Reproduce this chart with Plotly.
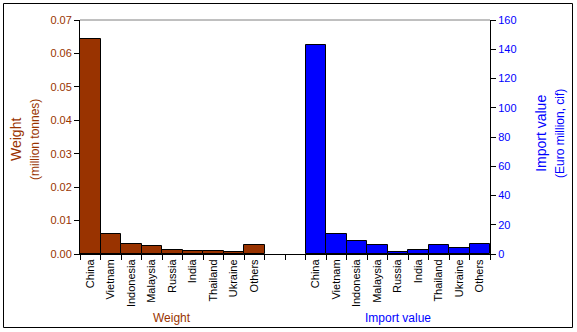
import plotly.graph_objects as go

countries = ["China", "Vietnam", "Indonesia", "Malaysia", "Russia", "India", "Thailand", "Ukraine", "Others"]
weight = [0.0643, 0.0061, 0.0030, 0.0024, 0.0012, 0.0008, 0.0008, 0.0005, 0.0027]
import_value = [143.0, 14.0, 8.7, 6.2, 1.3, 2.5, 6.2, 3.9, 6.8]
group_labels = ["Weight", "Import value"]

BROWN = "#993300"
BLUE = "#0000FF"
FONT = "Arial, Liberation Sans, sans-serif"

n = len(countries)
gap = 2
x_left = list(range(n))
x_right = [n + gap + i for i in range(n)]
total = 2 * n + gap

fig = go.Figure()
fig.add_trace(go.Bar(x=x_left, y=weight, width=1, marker=dict(color=BROWN, line=dict(color="black", width=1)),
                     yaxis="y", showlegend=False))
fig.add_trace(go.Bar(x=x_right, y=import_value, width=1, marker=dict(color=BLUE, line=dict(color="black", width=1)),
                     yaxis="y2", showlegend=False))

fig.update_layout(
    width=577, height=332,
    margin=dict(l=80, r=87, t=20, b=78),
    paper_bgcolor="white", plot_bgcolor="white",
    font=dict(family=FONT, size=11, color="black"),
    bargap=0,
    xaxis=dict(
        range=[-0.5, total - 0.5],
        tickmode="array",
        tickvals=x_left + x_right,
        ticktext=countries + countries,
        tickangle=-90,
        ticks="", ticklen=0,
        showline=True, linecolor="black", linewidth=1,
        showgrid=False, zeroline=False,
        tickfont=dict(family=FONT, size=11, color="black"),
        minor=dict(tickmode="array", tickvals=[i - 0.5 for i in range(total + 1)],
                   ticks="outside", ticklen=5, tickcolor="black", showgrid=False),
    ),
    yaxis=dict(
        range=[0, 0.07], dtick=0.01, tickformat=".2f",
        showline=True, linecolor="black", linewidth=1,
        ticks="outside", ticklen=5, tickcolor="black",
        showgrid=False, zeroline=False,
        tickfont=dict(family=FONT, size=11, color=BROWN),
    ),
    yaxis2=dict(
        range=[0, 160], dtick=20, overlaying="y", side="right",
        showline=True, linecolor="black", linewidth=1,
        ticks="outside", ticklen=5, tickcolor="black",
        showgrid=False, zeroline=False,
        tickfont=dict(family=FONT, size=11, color=BLUE),
    ),
)

# top plot border (gray)
fig.add_shape(type="line", xref="paper", yref="paper", x0=0, x1=1, y0=1, y1=1,
              line=dict(color="#808080", width=1))
# chart area border
fig.add_shape(type="rect", xref="paper", yref="paper",
              x0=(3.5 - 80) / 410, x1=(572.5 - 80) / 410,
              y0=(254 - 327.5) / 234, y1=(254 - 3.5) / 234,
              line=dict(color="black", width=1), fillcolor="rgba(0,0,0,0)", layer="below")

# axis titles
fig.add_annotation(xref="paper", yref="paper", x=(25 - 80) / 410, y=(254 - 140) / 234,
                   text="Weight<br><span style='font-size:12px'>(million tonnes)</span>",
                   textangle=-90, showarrow=False, font=dict(family=FONT, size=14, color=BROWN),
                   xanchor="center", yanchor="middle")
fig.add_annotation(xref="paper", yref="paper", x=(550 - 80) / 410, y=(254 - 134) / 234,
                   text="Import value<br><span style='font-size:12px'>(Euro million, cif)</span>",
                   textangle=-90, showarrow=False, font=dict(family=FONT, size=14, color=BLUE),
                   xanchor="center", yanchor="middle")

# group labels
fig.add_annotation(xref="x", yref="paper", x=(x_left[0] + x_left[-1]) / 2, y=(254 - 318) / 234,
                   text=group_labels[0], showarrow=False, font=dict(family=FONT, size=12, color=BROWN),
                   xanchor="center", yanchor="middle")
fig.add_annotation(xref="x", yref="paper", x=(x_right[0] + x_right[-1]) / 2, y=(254 - 318) / 234,
                   text=group_labels[1], showarrow=False, font=dict(family=FONT, size=12, color=BLUE),
                   xanchor="center", yanchor="middle")

fig.write_html("out.html")
